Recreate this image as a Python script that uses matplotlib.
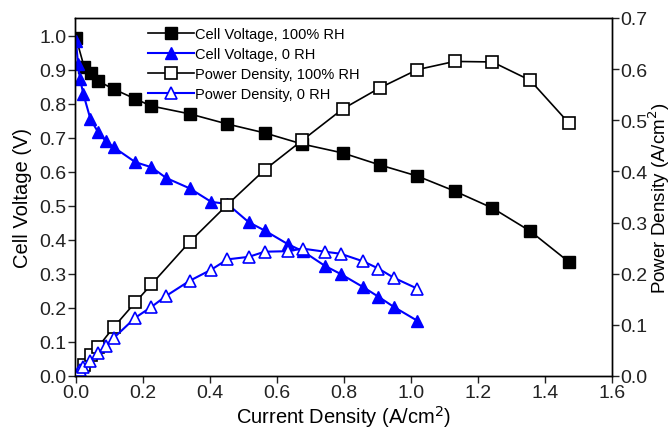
import numpy as np
import matplotlib.pyplot as plt

plt.rcParams['font.family'] = ['Liberation Sans', 'DejaVu Sans']

# Cell voltage / power density, 100% RH
j_100 = [0.0, 0.024, 0.046, 0.065, 0.112, 0.177, 0.225, 0.339, 0.452, 0.563,
         0.676, 0.796, 0.906, 1.019, 1.130, 1.243, 1.356, 1.472]
v_100 = [0.995, 0.91, 0.89, 0.868, 0.844, 0.815, 0.794, 0.771, 0.741, 0.715,
         0.682, 0.656, 0.621, 0.588, 0.544, 0.494, 0.426, 0.335]
p_100 = [0.0, 0.022, 0.041, 0.056, 0.095, 0.144, 0.179, 0.262, 0.335, 0.403,
         0.461, 0.522, 0.563, 0.599, 0.615, 0.614, 0.578, 0.494]

# Cell voltage / power density, 0 RH
j_0 = [0.0, 0.006, 0.012, 0.022, 0.043, 0.066, 0.09, 0.112, 0.177, 0.225,
       0.27, 0.339, 0.404, 0.452, 0.516, 0.563, 0.632, 0.677, 0.743, 0.79,
       0.858, 0.903, 0.949, 1.018]
v_0 = [0.985, 0.918, 0.874, 0.829, 0.756, 0.717, 0.69, 0.673, 0.629, 0.614,
       0.582, 0.552, 0.512, 0.506, 0.452, 0.428, 0.388, 0.367, 0.324, 0.30,
       0.261, 0.233, 0.203, 0.163]
p_0 = [0.0, 0.006, 0.011, 0.018, 0.029, 0.045, 0.059, 0.074, 0.114, 0.135,
       0.157, 0.186, 0.208, 0.228, 0.233, 0.243, 0.244, 0.249, 0.243, 0.239,
       0.224, 0.21, 0.192, 0.171]

blue = '#0000ff'

fig = plt.figure(figsize=(6.72, 4.31), dpi=100)
ax = fig.add_axes([0.1116, 0.1253, 0.7991, 0.8307])
ax2 = ax.twinx()

l1, = ax.plot(j_100, v_100, color='black', lw=1.2, marker='s', ms=9,
              mfc='black', mec='black', label='Cell Voltage, 100% RH')
l2, = ax.plot(j_0, v_0, color=blue, lw=1.5, marker='^', ms=9,
              mfc=blue, mec=blue, label='Cell Voltage, 0 RH')
l3, = ax2.plot(j_100, p_100, color='black', lw=1.2, marker='s', ms=9,
               mfc='white', mec='black', mew=1.2, label='Power Density, 100% RH')
l4, = ax2.plot(j_0, p_0, color=blue, lw=1.5, marker='^', ms=9,
               mfc='white', mec=blue, mew=1.2, label='Power Density, 0 RH')

ax.set_xlim(-0.003, 1.6)
ax.set_ylim(0, 1.053)
ax2.set_ylim(0, 0.7)
ax.set_xticks(np.arange(0, 1.61, 0.2))
ax.set_yticks(np.arange(0, 1.01, 0.1))
ax2.set_yticks(np.arange(0, 0.71, 0.1))
ax.xaxis.set_major_formatter(plt.FormatStrFormatter('%.1f'))
ax.yaxis.set_major_formatter(plt.FormatStrFormatter('%.1f'))
ax2.yaxis.set_major_formatter(plt.FormatStrFormatter('%.1f'))

for a in (ax, ax2):
    a.tick_params(labelsize=14, length=5, width=1.0, direction='out', pad=1,
                  colors='#222222')
    for s in a.spines.values():
        s.set_linewidth(1.0)

ax.set_xlabel('Current Density (A/cm$^2$)', fontsize=14.5)
ax.set_ylabel('Cell Voltage (V)', fontsize=14.5)
ax2.set_ylabel('Power Density (A/cm$^2$)', fontsize=13.5)
ax.xaxis.set_label_coords(0.5, -0.075)
ax.yaxis.set_label_coords(-0.08, 0.5)
ax2.yaxis.set_label_coords(1.064, 0.5)

ax2.legend(handles=[l1, l2, l3, l4], loc='upper left',
           bbox_to_anchor=(0.136, 0.974), frameon=False, fontsize=10.5,
           handlelength=3.15, handletextpad=0.1, labelspacing=0.4,
           borderpad=0, borderaxespad=0)

fig.savefig('out.png', dpi=100)
